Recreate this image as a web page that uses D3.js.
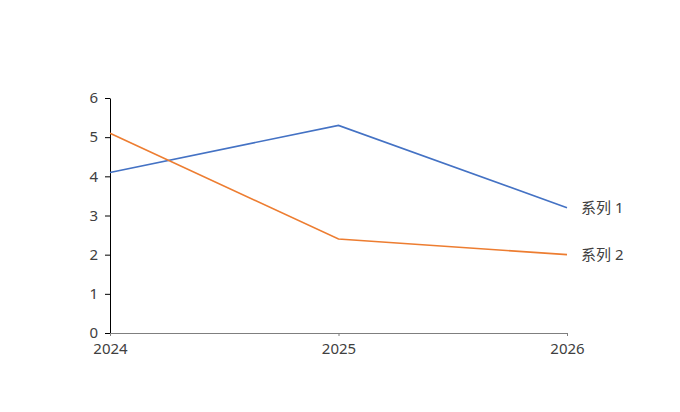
<!DOCTYPE html>
<html>
<head>
<meta charset="utf-8">
<script src="https://cdn.jsdelivr.net/npm/d3@7"></script>
<style>
  body { margin: 0; background: #fff; }
  text { font-family: "Noto Sans", "Noto Sans CJK SC", sans-serif; }
</style>
</head>
<body>
<div id="chart"></div>
<script>
var years = ["2024", "2025", "2026"];
var seriesNames = ["系列 1", "系列 2"];
var series1 = [4.1, 5.3, 3.2];
var series2 = [5.1, 2.4, 2.0];
var yTicks = [0, 1, 2, 3, 4, 5, 6];
var colors = ["#4472c4", "#ed7d31"];

var width = 680, height = 412;
var svg = d3.select("#chart").append("svg")
  .attr("width", width)
  .attr("height", height);

var x = d3.scalePoint().domain(years).range([110, 567]);
var y = d3.scaleLinear().domain([0, 6]).range([333, 98]);

// y axis
var yAxis = svg.append("g")
  .attr("transform", "translate(110,0)")
  .call(d3.axisLeft(y).tickValues(yTicks).tickFormat(d3.format("d"))
    .tickSize(5).tickSizeOuter(0).tickPadding(7));
yAxis.select(".domain").attr("stroke", "#000");
yAxis.selectAll(".tick line").attr("stroke", "#000");
yAxis.selectAll("text").attr("fill", "#404040").style("font-size", "15px");

// x axis
var xAxis = svg.append("g")
  .attr("transform", "translate(0,333)")
  .call(d3.axisBottom(x).tickSize(3).tickSizeOuter(0).tickPadding(7));
xAxis.select(".domain").attr("stroke", "#7f7f7f");
xAxis.selectAll(".tick line").attr("stroke", "#7f7f7f");
xAxis.selectAll("text").attr("fill", "#404040").style("font-size", "15px");

var line = d3.line()
  .x(function(d, i) { return x(years[i]); })
  .y(function(d) { return y(d); });

var all = [series1, series2];
all.forEach(function(s, k) {
  svg.append("path")
    .datum(s)
    .attr("fill", "none")
    .attr("stroke", colors[k])
    .attr("stroke-width", 1.6)
    .attr("d", line);

  svg.append("text")
    .attr("x", x(years[years.length - 1]) + 14)
    .attr("y", y(s[s.length - 1]))
    .attr("dy", "0.35em")
    .attr("fill", "#404040")
    .style("font-size", "15px")
    .text(seriesNames[k]);
});
</script>
</body>
</html>
